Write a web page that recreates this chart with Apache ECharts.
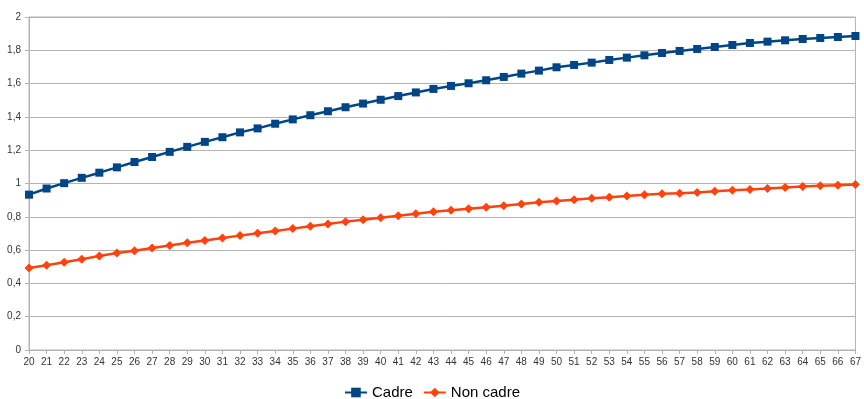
<!DOCTYPE html>
<html><head><meta charset="utf-8">
<script src="https://cdn.jsdelivr.net/npm/echarts@6/dist/echarts.min.js"></script>
<style>html,body{margin:0;padding:0;background:#fff}#c{width:864px;height:399px}</style>
</head><body><div id="c"></div>
<script>
const ages = [];
for (let a = 20; a <= 67; a++) ages.push(String(a));
const cadre = [0.933,0.970,1.002,1.034,1.065,1.097,1.129,1.159,1.190,1.220,1.250,1.278,1.307,1.331,1.359,1.385,1.410,1.434,1.458,1.480,1.503,1.525,1.547,1.568,1.586,1.602,1.620,1.640,1.660,1.678,1.698,1.712,1.726,1.742,1.756,1.770,1.784,1.796,1.808,1.820,1.832,1.844,1.852,1.860,1.868,1.874,1.880,1.886];
const nonCadre = [0.493,0.509,0.527,0.545,0.564,0.582,0.596,0.612,0.628,0.644,0.658,0.673,0.687,0.701,0.715,0.729,0.743,0.757,0.771,0.782,0.794,0.806,0.818,0.830,0.840,0.848,0.857,0.867,0.877,0.887,0.895,0.903,0.911,0.918,0.925,0.932,0.938,0.942,0.946,0.954,0.960,0.964,0.970,0.976,0.982,0.986,0.990,0.994];
const seriesNames = ['Cadre', 'Non cadre'];

const chart = echarts.init(document.getElementById('c'), null, {renderer: 'canvas'});
const axisFont = {fontFamily: 'Liberation Sans', fontSize: 10, color: '#333'};
chart.setOption({
  animation: false,
  grid: {left: 29, right: 6, top: 17, bottom: 49, show: true, borderColor: '#b3b3b3', borderWidth: 1},
  legend: {
    top: 380, left: 'center', itemWidth: 22, itemHeight: 12, itemGap: 10,
    textStyle: {fontFamily: 'Liberation Sans', fontSize: 15, color: '#000'},
    data: seriesNames
  },
  xAxis: {
    type: 'category', data: ages, boundaryGap: false,
    axisLine: {lineStyle: {color: '#b3b3b3'}},
    axisTick: {show: true, alignWithLabel: true, length: 4, lineStyle: {color: '#b3b3b3'}},
    axisLabel: Object.assign({interval: 0, margin: 7}, axisFont),
    splitLine: {show: false}
  },
  yAxis: {
    type: 'value', min: 0, max: 2, interval: 0.2,
    axisLine: {show: true, lineStyle: {color: '#b3b3b3'}},
    axisTick: {show: true, length: 4, lineStyle: {color: '#b3b3b3'}},
    axisLabel: Object.assign({margin: 8, formatter: v => String(Math.round(v*10)/10).replace('.', ',')}, axisFont),
    splitLine: {lineStyle: {color: '#b3b3b3'}}
  },
  series: [
    {name: seriesNames[0], type: 'line', data: cadre, symbol: 'rect', symbolSize: 8,
     lineStyle: {color: '#004586', width: 2.5}, itemStyle: {color: '#004586'}},
    {name: seriesNames[1], type: 'line', data: nonCadre, symbol: 'diamond', symbolSize: 9,
     lineStyle: {color: '#ff420e', width: 2.5}, itemStyle: {color: '#ff420e'}}
  ]
});
</script></body></html>
